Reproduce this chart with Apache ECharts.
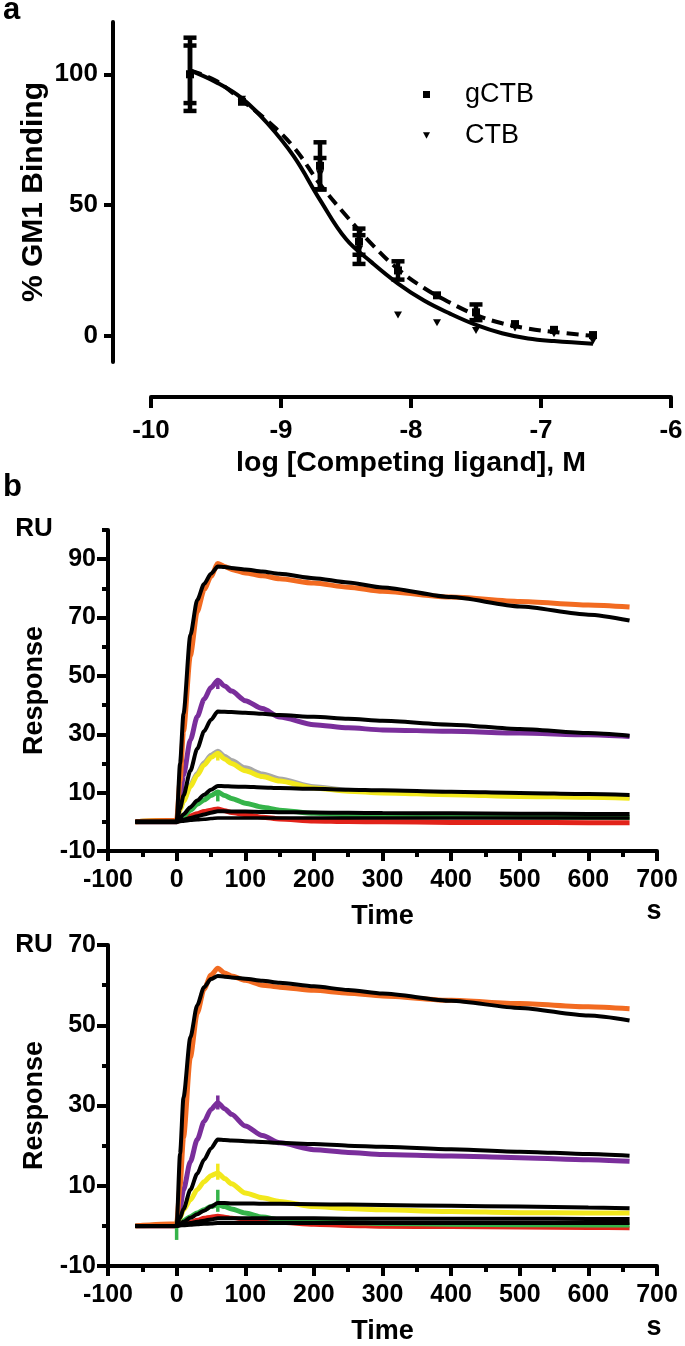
<!DOCTYPE html>
<html>
<head>
<meta charset="utf-8">
<script src="https://cdn.jsdelivr.net/npm/echarts@6/dist/echarts.min.js"></script>
<style>
html,body{margin:0;padding:0;background:#fff;}
#c{width:685px;height:1346px;}
</style>
</head>
<body>
<div id="c"></div>
<script>
// ---------- Panel a : competition binding ----------
const doseX    = [-9.7, -9.3, -8.7, -8.4, -8.1, -7.8, -7.5, -7.2, -6.9, -6.6];
const gctbMean = [100, 89.5, 65, 36, 25, 15.5, 9, 4.5, 2.3, 0.3];
const gctbSem  = [14, 0, 9, 5, 3.5, 0, 3, 0, 0, 0];
const ctbMean  = [100, 90.5, 62, 33, 8, 5, 2, 3, 0.8, -2];
const ctbSem   = [11, 0, 6, 5.5, 0, 0, 0, 0, 0, 0];
const curveX   = [-9.7, -9.5, -9.3, -9.1, -8.9, -8.7, -8.5, -8.3, -8.1, -7.9, -7.7, -7.5, -7.3, -7.1, -6.9, -6.6];
const gctbFit  = [101.5, 97.5, 90, 82, 72, 58, 46, 35, 25.5, 18.3, 12.7, 8, 4.8, 2.8, 1.5, 0];
const ctbFit   = [101.5, 97, 90.8, 81, 68.5, 52, 37, 28, 20, 13.5, 8.5, 4.2, 1, -1, -2, -3];
const aXTicks  = [-10, -9, -8, -7, -6];
const aYTicks  = [0, 50, 100];

// ---------- Panel b : SPR sensorgrams ----------
const T = [-60, 0, 5, 10, 20, 30, 40, 50, 60, 70, 80, 100, 125, 150, 200, 250, 300, 400, 500, 600, 660];
// top sensorgram
const b1Orange = [0, 0.5, 14, 31, 57, 72, 79.5, 84, 88.5, 87.5, 86.5, 85.3, 84.3, 83.3, 81.8, 80.4, 79, 77, 75.5, 74.3, 73.6];
const b1Purple = [0, 0, 8, 16, 28, 36, 42, 46, 48.5, 46.5, 44.8, 41.5, 38.8, 35.9, 33.3, 32.2, 31.5, 31, 30.4, 29.8, 29.2];
const b1Grey   = [0, 0.5, 4.3, 7.5, 12.5, 16.6, 20.2, 22.8, 24.2, 22.5, 21, 18.5, 16.4, 14.7, 12, 10.8, 10.1, 9.5, 9, 8.7, 8.4];
const b1Yellow = [0, 0.5, 4, 7, 12, 16, 19.5, 22, 23.5, 21.5, 20, 17.5, 15.5, 14, 11.6, 10.5, 9.9, 9.3, 8.7, 8.4, 8.1];
const b1Green  = [0, 0, 1, 2, 4, 6, 7.5, 9, 10.2, 9, 8, 6.4, 5, 4, 2.9, 2.5, 2.3, 1.9, 1.7, 1.6, 1.5];
const b1Red    = [0, 0, 0.5, 1, 2, 2.8, 3.5, 4, 4.4, 3.8, 3.2, 2.5, 1.6, 1, 0.3, 0.1, 0, -0.2, -0.2, -0.3, -0.3];
const b1Fit1   = [0, 0, 20, 37, 64, 76, 81.5, 85, 87.5, 87.3, 87, 86.5, 85.8, 85, 83.5, 82, 80.3, 77, 73.8, 71, 69];
const b1Fit2   = [0, 0, 4.5, 9, 17.5, 25, 31, 35, 37.8, 37.7, 37.6, 37.4, 37, 36.6, 36, 35.3, 34.6, 33.3, 31.8, 30.4, 29.5];
const b1Fit3   = [0, 0, 1.3, 2.6, 5, 7.3, 9.3, 11, 12.3, 12.2, 12.1, 12, 11.8, 11.6, 11.3, 11, 10.8, 10.3, 9.9, 9.5, 9.2];
const b1Fit4   = [0, 0, 0.4, 0.7, 1.3, 1.9, 2.5, 3.1, 3.6, 3.6, 3.5, 3.5, 3.4, 3.3, 3.2, 3.1, 3, 2.9, 2.8, 2.7, 2.7];
const b1Fit5   = [0, 0, 0.1, 0.2, 0.5, 0.7, 0.9, 1.1, 1.3, 1.3, 1.3, 1.3, 1.3, 1.3, 1.3, 1.3, 1.3, 1.3, 1.3, 1.3, 1.3];
// bottom sensorgram
const b2Orange = [0, 0.5, 10, 22, 42, 53, 59, 62.5, 64.2, 63, 62.3, 61.2, 60, 59.5, 58.7, 58, 57.3, 56.2, 55.4, 54.6, 54.1];
const b2Purple = [0, 0, 4.5, 9, 16, 21.5, 26, 29, 30.7, 29.2, 27.8, 24.9, 22.5, 20.7, 19, 18.3, 17.8, 17.4, 17, 16.5, 16.1];
const b2Yellow = [0, 0, 2, 4, 6.5, 9, 11, 12.5, 13.2, 11.8, 10.5, 8.2, 7, 6.1, 4.8, 4.3, 4, 3.6, 3.3, 3.2, 3.2];
const b2Green  = [0, 0.3, 0.8, 1.3, 2.3, 3.2, 4, 4.8, 5.3, 4.8, 4.2, 3.2, 2.2, 1.5, 1.1, 0.8, 0.6, 0.4, 0.3, 0.2, 0.2];
const b2Red    = [0, 0, 0.3, 0.5, 1, 1.5, 2, 2.3, 2.5, 2.3, 2, 1.6, 1.2, 0.8, 0.3, 0, -0.2, -0.3, -0.4, -0.5, -0.6];
const b2Fit1   = [0, 0, 18, 32, 47, 55, 59.5, 61.5, 62.3, 62.1, 61.9, 61.6, 61.1, 60.6, 59.7, 58.8, 57.9, 56.1, 54.3, 52.4, 51.2];
const b2Fit2   = [0, 0, 2, 4.2, 9, 13, 16.5, 19.3, 21.5, 21.4, 21.3, 21.1, 20.9, 20.7, 20.4, 20, 19.7, 19.1, 18.5, 17.9, 17.5];
const b2Fit3   = [0, 0, 0.5, 1, 2, 2.9, 3.8, 4.8, 5.7, 5.7, 5.6, 5.6, 5.5, 5.5, 5.4, 5.3, 5.2, 5, 4.8, 4.6, 4.4];
const b2Fit4   = [0, 0, 0.2, 0.4, 0.7, 1, 1.3, 1.6, 1.9, 1.9, 1.9, 1.9, 1.9, 1.9, 1.9, 1.8, 1.8, 1.8, 1.8, 1.7, 1.7];
const b2Fit5   = [0, 0, 0.1, 0.15, 0.3, 0.4, 0.5, 0.6, 0.7, 0.7, 0.7, 0.7, 0.7, 0.7, 0.7, 0.7, 0.7, 0.7, 0.7, 0.7, 0.7];
// injection spikes: [time, low, high, colour key]
const b1Spikes = [[60, 7, 10.5, 'green'], [60, 45.5, 49, 'purple'], [60, 21, 24, 'yellow']];
const b2Spikes = [[0, -3.5, 1.5, 'green'], [60, 3.5, 9, 'green'], [60, 11.5, 15.5, 'yellow'], [60, 29, 32.5, 'purple']];
const bXTicks  = [-100, 0, 100, 200, 300, 400, 500, 600, 700];
const b1YLabels = [-10, 10, 30, 50, 70, 90];
const b1YMinor  = [0, 20, 40, 60, 80, 100];
const b2YLabels = [-10, 10, 30, 50, 70];
const b2YMinor  = [0, 20, 40, 60];

const COL = {orange:'#F26B21', purple:'#7A2E9B', yellow:'#F2E81C', green:'#35B44A', red:'#E2231A', grey:'#A8A8A8', black:'#000'};
const FONT = '"Liberation Sans", Arial, sans-serif';
const pairs = (xs, ys) => xs.map((x, i) => [x, ys[i]]);

const chart = echarts.init(document.getElementById('c'), null, {renderer: 'canvas', width: 685, height: 1346});

function errSeries(name, means, sems) {
  const data = [];
  doseX.forEach((x, i) => { if (sems[i] > 0) data.push([x, means[i] - sems[i], means[i] + sems[i]]); });
  return {
    type: 'custom', name: name, xAxisIndex: 0, yAxisIndex: 0, z: 4, silent: true,
    data: data, encode: {x: 0, y: [1, 2]},
    renderItem: function (params, api) {
      const lo = api.coord([api.value(0), api.value(1)]);
      const hi = api.coord([api.value(0), api.value(2)]);
      const w = 6.5;
      const st = {stroke: '#000', lineWidth: 4.5};
      return {type: 'group', children: [
        {type: 'line', shape: {x1: lo[0], y1: lo[1], x2: hi[0], y2: hi[1]}, style: st},
        {type: 'line', shape: {x1: lo[0] - w, y1: lo[1], x2: lo[0] + w, y2: lo[1]}, style: st},
        {type: 'line', shape: {x1: hi[0] - w, y1: hi[1], x2: hi[0] + w, y2: hi[1]}, style: st}
      ]};
    }
  };
}

function spikeSeries(xi, yi, spikes) {
  return {
    type: 'custom', xAxisIndex: xi, yAxisIndex: yi, z: 3, silent: true,
    data: spikes.map(s => [s[0], s[1], s[2]]), encode: {x: 0, y: [1, 2]},
    renderItem: function (params, api) {
      const lo = api.coord([api.value(0), api.value(1)]);
      const hi = api.coord([api.value(0), api.value(2)]);
      return {type: 'line', shape: {x1: lo[0], y1: lo[1], x2: hi[0], y2: hi[1]},
        style: {stroke: COL[spikes[params.dataIndex][3]], lineWidth: 3.5}};
    }
  };
}

function trace(xi, yi, vals, color, width, z) {
  return {type: 'line', xAxisIndex: xi, yAxisIndex: yi, data: pairs(T, vals), showSymbol: false,
    smooth: 0.25, smoothMonotone: 'x', silent: true, z: z,
    lineStyle: {color: color, width: width}};
}

const axLine = {show: true, onZero: false, lineStyle: {color: '#000', width: 4}};
const tickStyle = {color: '#000', width: 4};

function bXAxis(gi) {
  return {gridIndex: gi, type: 'value', position: 'bottom', min: -100, max: 700, interval: 100,
    axisLine: axLine, axisTick: {show: true, length: 10, lineStyle: tickStyle},
    minorTick: {show: true, splitNumber: 2, length: 6, lineStyle: tickStyle},
    axisLabel: {fontSize: 25, fontWeight: 'bold', color: '#000', fontFamily: FONT, margin: 17},
    splitLine: {show: false}, minorSplitLine: {show: false},
    name: 'Time', nameLocation: 'middle', nameGap: 52, nameMoveOverlap: false,
    nameTextStyle: {fontSize: 27, fontWeight: 'bold', color: '#000', fontFamily: FONT}};
}
function bYAxis(gi, max, labels) {
  return {gridIndex: gi, type: 'value', position: 'left', min: -10, max: max,
    axisLine: axLine, axisTick: {show: true, length: 11, lineStyle: tickStyle, customValues: labels},
    axisLabel: {fontSize: 25, fontWeight: 'bold', color: '#000', fontFamily: FONT, margin: 12, customValues: labels},
    splitLine: {show: false},
    name: 'Response', nameLocation: 'middle', nameRotate: 90, nameGap: 60, nameMoveOverlap: false,
    nameTextStyle: {fontSize: 27, fontWeight: 'bold', color: '#000', fontFamily: FONT}};
}
function bYMinor(gi, max, minor) {
  return {gridIndex: gi, type: 'value', position: 'left', min: -10, max: max,
    axisLine: {show: false, onZero: false}, axisTick: {show: true, length: 6, lineStyle: tickStyle, customValues: minor},
    axisLabel: {show: false}, splitLine: {show: false}};
}

const option = {
  animation: false,
  backgroundColor: '#fff',
  textStyle: {fontFamily: FONT},
  grid: [
    {left: 151, top: 22, width: 520, height: 340, outerBoundsMode: 'none'},
    {left: 108, top: 530, width: 549, height: 321, outerBoundsMode: 'none'},
    {left: 108, top: 945, width: 549, height: 321, outerBoundsMode: 'none'}
  ],
  xAxis: [
    {gridIndex: 0, type: 'value', position: 'bottom', min: -10, max: -6, interval: 1, offset: 35,
      axisLine: axLine, axisTick: {show: true, length: 11, lineStyle: tickStyle, customValues: aXTicks},
      axisLabel: {fontSize: 26, fontWeight: 'bold', color: '#000', fontFamily: FONT, margin: 21, customValues: aXTicks},
      splitLine: {show: false},
      name: 'log [Competing ligand], M', nameLocation: 'middle', nameGap: 52, nameMoveOverlap: false,
      nameTextStyle: {fontSize: 28.5, fontWeight: 'bold', color: '#000', fontFamily: FONT}},
    bXAxis(1),
    bXAxis(2)
  ],
  yAxis: [
    {gridIndex: 0, type: 'value', position: 'left', min: -10, max: 120, offset: 38,
      axisLine: axLine, axisTick: {show: true, length: 9, lineStyle: tickStyle, customValues: aYTicks},
      axisLabel: {fontSize: 26, fontWeight: 'bold', color: '#000', fontFamily: FONT, margin: 15, customValues: aYTicks},
      splitLine: {show: false},
      name: '% GM1 Binding', nameLocation: 'middle', nameRotate: 90, nameGap: 64, nameMoveOverlap: false,
      nameTextStyle: {fontSize: 30, fontWeight: 'bold', color: '#000', fontFamily: FONT}},
    bYAxis(1, 100, b1YLabels),
    bYMinor(1, 100, b1YMinor),
    bYAxis(2, 70, b2YLabels),
    bYMinor(2, 70, b2YMinor)
  ],
  legend: {
    orient: 'vertical', left: 418, top: 76, itemWidth: 7, itemHeight: 7, itemGap: 14,
    selectedMode: false,
    textStyle: {fontSize: 27, color: '#000', fontFamily: FONT, padding: [0, 0, 0, 30]},
    data: [{name: 'gCTB', icon: 'rect', itemStyle: {color: '#000', opacity: 1}},
           {name: 'CTB', icon: 'path://M0,0L10,0L5,9Z', itemStyle: {color: '#000', opacity: 1}}]
  },
  graphic: [
    {type: 'text', left: 3, top: -5, style: {text: 'a', font: 'bold 31px ' + FONT, fill: '#000'}},
    {type: 'text', left: 3, top: 472, style: {text: 'b', font: 'bold 31px ' + FONT, fill: '#000'}},
    {type: 'text', x: 34, y: 529, style: {text: 'RU', font: 'bold 26px ' + FONT, fill: '#000', align: 'center', verticalAlign: 'middle'}},
    {type: 'text', x: 34, y: 945, style: {text: 'RU', font: 'bold 26px ' + FONT, fill: '#000', align: 'center', verticalAlign: 'middle'}},
    {type: 'text', x: 654, y: 912, style: {text: 's', font: 'bold 27px ' + FONT, fill: '#000', align: 'center', verticalAlign: 'middle'}},
    {type: 'text', x: 654, y: 1328, style: {text: 's', font: 'bold 27px ' + FONT, fill: '#000', align: 'center', verticalAlign: 'middle'}}
  ],
  series: [
    // panel a fits
    {type: 'line', name: 'gCTB fit', xAxisIndex: 0, yAxisIndex: 0, data: pairs(curveX, gctbFit),
      showSymbol: false, smooth: 0.4, silent: true, z: 2, lineStyle: {color: '#000', width: 4, type: [12, 7]}},
    {type: 'line', name: 'CTB fit', xAxisIndex: 0, yAxisIndex: 0, data: pairs(curveX, ctbFit),
      showSymbol: false, smooth: 0.4, silent: true, z: 2, lineStyle: {color: '#000', width: 4}},
    errSeries('gCTB SEM', gctbMean, gctbSem),
    errSeries('CTB SEM', ctbMean, ctbSem),
    {type: 'scatter', name: 'gCTB', xAxisIndex: 0, yAxisIndex: 0, data: pairs(doseX, gctbMean),
      symbol: 'rect', symbolSize: 8, itemStyle: {color: '#000', opacity: 1}, z: 5},
    {type: 'scatter', name: 'CTB', xAxisIndex: 0, yAxisIndex: 0, data: pairs(doseX, ctbMean),
      symbol: 'triangle', symbolRotate: 180, symbolSize: [8, 7], itemStyle: {color: '#000', opacity: 1}, z: 5},

    // panel b, top
    trace(1, 1, b1Red, COL.red, 5, 2),
    trace(1, 1, b1Green, COL.green, 5, 2),
    trace(1, 1, b1Grey, COL.grey, 5, 2),
    trace(1, 1, b1Yellow, COL.yellow, 5, 2),
    trace(1, 1, b1Purple, COL.purple, 5, 2),
    trace(1, 1, b1Orange, COL.orange, 5, 2),
    spikeSeries(1, 1, b1Spikes),
    trace(1, 1, b1Fit5, COL.black, 3.5, 4),
    trace(1, 1, b1Fit4, COL.black, 4, 4),
    trace(1, 1, b1Fit3, COL.black, 4, 4),
    trace(1, 1, b1Fit2, COL.black, 4, 4),
    trace(1, 1, b1Fit1, COL.black, 4, 4),

    // panel b, bottom
    trace(2, 3, b2Red, COL.red, 4, 2),
    trace(2, 3, b2Green, COL.green, 5, 2),
    trace(2, 3, b2Yellow, COL.yellow, 5, 2),
    trace(2, 3, b2Purple, COL.purple, 5, 2),
    trace(2, 3, b2Orange, COL.orange, 5, 2),
    spikeSeries(2, 3, b2Spikes),
    trace(2, 3, b2Fit5, COL.black, 4, 4),
    trace(2, 3, b2Fit4, COL.black, 4, 4),
    trace(2, 3, b2Fit3, COL.black, 4, 4),
    trace(2, 3, b2Fit2, COL.black, 4, 4),
    trace(2, 3, b2Fit1, COL.black, 4, 4)
  ]
};
chart.setOption(option);
</script>
</body>
</html>
